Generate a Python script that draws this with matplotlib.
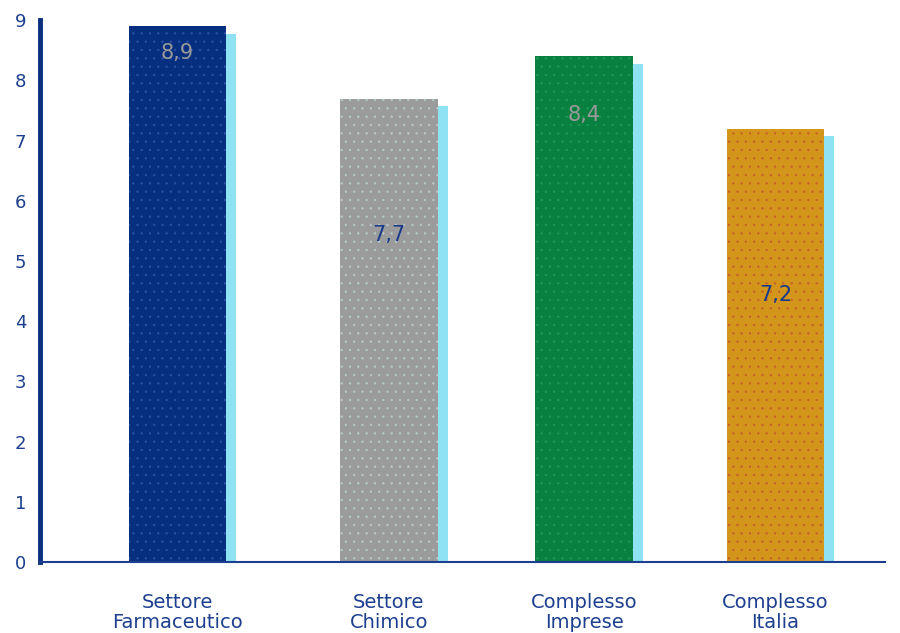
import numpy as np
import matplotlib.pyplot as plt

categories = ['Settore\nFarmaceutico', 'Settore\nChimico', 'Complesso\nImprese', 'Complesso\nItalia']
values = [8.9, 7.7, 8.4, 7.2]
value_labels = ['8,9', '7,7', '8,4', '7,2']
yticks = list(range(0, 10))

bar_colors = ['#062f7f', '#9b9b9b', '#08803f', '#d3961b']
hatch_colors = ['#2a4fa8', '#b8c8c8', '#1a9a55', '#c8602a']
label_colors = ['#9a9a9a', '#1a3a8a', '#9a9a9a', '#1a3a8a']
label_y = [8.45, 5.43, 7.43, 4.44]
text_color = '#1d3f8f'

plt.rcParams['hatch.linewidth'] = 0.5

fig = plt.figure(figsize=(9, 6.33), dpi=100)
ax = fig.add_axes([0.0444, 0.112, 0.939, 0.856])

# bar slots are not quite evenly spaced
x = np.array([0.0, 1.06, 2.04, 3.0])
w = 0.49

# cyan shadow behind each bar, a little lower and shifted right
ax.bar(x + 0.05, np.array(values) - 0.13, width=w, color='#8fe2f2',
       linewidth=0, zorder=1)
for xi, v, c, hc in zip(x, values, bar_colors, hatch_colors):
    ax.bar(xi, v, width=w, color=c, edgecolor=hc, linewidth=0,
           hatch='..', zorder=2)

for xi, lab, ly, lc in zip(x, value_labels, label_y, label_colors):
    ax.text(xi, ly, lab, ha='center', va='center', fontsize=15,
            color=lc, zorder=3)

ax.set_xlim(-0.69, 3.55)
ax.set_ylim(0, 9)
ax.set_yticks(yticks)
ax.set_yticklabels([str(t) for t in yticks], fontsize=13, color=text_color)
ax.set_xticks(x)
ax.set_xticklabels(categories, fontsize=14, color=text_color, linespacing=1.1)
ax.tick_params(axis='both', length=0)
ax.tick_params(axis='x', pad=22)
ax.tick_params(axis='y', pad=10)

ax.spines['right'].set_visible(False)
ax.spines['top'].set_visible(False)
ax.spines['left'].set_color('#0a2f7f')
ax.spines['left'].set_linewidth(3.5)
ax.spines['bottom'].set_color('#1d3f8f')
ax.spines['bottom'].set_linewidth(1.5)

fig.savefig('out.png', dpi=100)
